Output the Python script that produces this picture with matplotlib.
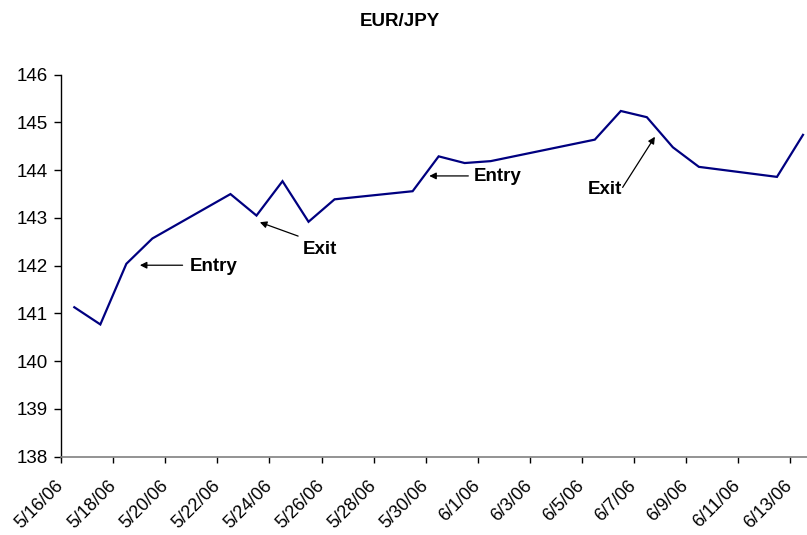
import matplotlib
matplotlib.use("Agg")
import matplotlib.pyplot as plt
import matplotlib.transforms as mtransforms
import pandas as pd

plt.rcParams['font.family'] = ['Liberation Sans', 'DejaVu Sans']

# Daily EUR/JPY closes (trading days only)
dates = ["2006-05-16", "2006-05-17", "2006-05-18", "2006-05-19",
         "2006-05-22", "2006-05-23", "2006-05-24", "2006-05-25", "2006-05-26",
         "2006-05-29", "2006-05-30", "2006-05-31", "2006-06-01",
         "2006-06-05", "2006-06-06", "2006-06-07", "2006-06-08", "2006-06-09",
         "2006-06-12", "2006-06-13"]
rates = [141.13, 140.77, 142.04, 142.57,
         143.50, 143.05, 143.77, 142.92, 143.39,
         143.56, 144.29, 144.15, 144.19,
         144.64, 145.24, 145.11, 144.48, 144.07,
         143.86, 144.74]

tick_dates = ["2006-05-16", "2006-05-18", "2006-05-20", "2006-05-22", "2006-05-24",
              "2006-05-26", "2006-05-28", "2006-05-30", "2006-06-01", "2006-06-03",
              "2006-06-05", "2006-06-07", "2006-06-09", "2006-06-11", "2006-06-13"]
tick_labels = ["5/16/06", "5/18/06", "5/20/06", "5/22/06", "5/24/06", "5/26/06",
               "5/28/06", "5/30/06", "6/1/06", "6/3/06", "6/5/06", "6/7/06",
               "6/9/06", "6/11/06", "6/13/06"]
y_ticks = [138, 139, 140, 141, 142, 143, 144, 145, 146]

W, H = 807, 535
fig = plt.figure(figsize=(W / 100, H / 100), dpi=100)
left_px, right_px, top_px, bottom_px = 61.3, 816.0, 74.7, 456.7
ax = fig.add_axes([left_px / W, 1 - bottom_px / H,
                   (right_px - left_px) / W, (bottom_px - top_px) / H])

# points sit in the middle of each day
x = pd.to_datetime(dates) + pd.Timedelta(hours=12)
ax.plot(x, rates, color='#000080', lw=1.6, solid_joinstyle='miter', clip_on=False)

ax.set_xlim(pd.Timestamp("2006-05-16"), pd.Timestamp("2006-06-14"))
ax.set_ylim(138, 146)
ax.set_yticks(y_ticks)
ax.set_yticklabels([str(v) for v in y_ticks], fontsize=13.5)
ax.set_xticks(pd.to_datetime(tick_dates))
ax.set_xticklabels(tick_labels, fontsize=13, rotation=45, ha='right',
                   va='center', rotation_mode='anchor')

# nudge the slanted date labels slightly to the right
shift = mtransforms.ScaledTranslation(4 / 100, 0, fig.dpi_scale_trans)
for lbl in ax.get_xticklabels():
    lbl.set_transform(lbl.get_transform() + shift)

for s in ('top', 'right'):
    ax.spines[s].set_visible(False)
ax.spines['left'].set_color('black')
ax.spines['left'].set_linewidth(1.0)
ax.spines['bottom'].set_color('#808080')
ax.spines['bottom'].set_linewidth(1.2)
ax.tick_params(axis='y', length=5, width=1, color='black', pad=5)
ax.tick_params(axis='x', length=4.3, width=1, color='black', pad=15)

d0 = pd.Timestamp("2006-05-16")
def day(d):
    return d0 + pd.Timedelta(days=d)

arrow = dict(arrowstyle='-|>', color='black', lw=0.9, mutation_scale=10,
             shrinkA=0, shrinkB=0)

# Trade markers
notes = [
    ("Entry", (3.02, 142.01), (4.66, 142.01), (4.92, 141.98), 'left'),
    ("Exit", (7.63, 142.91), (9.10, 142.62), (9.27, 142.34), 'left'),
    ("Entry", (14.14, 143.88), (15.64, 143.88), (15.83, 143.86), 'left'),
    ("Exit", (22.81, 144.70), (21.57, 143.64), (20.89, 143.59), 'center'),
]
for label, tip, tail, txt, ha in notes:
    ax.annotate('', xy=(day(tip[0]), tip[1]), xytext=(day(tail[0]), tail[1]),
                arrowprops=arrow)
    ax.text(day(txt[0]), txt[1], label, fontsize=13.5, fontweight='bold',
            ha=ha, va='center')

fig.text(0.495, 1 - 21 / H, "EUR/JPY", fontsize=13.5, fontweight='bold',
         ha='center', va='center')

fig.savefig("out.png", dpi=100)
